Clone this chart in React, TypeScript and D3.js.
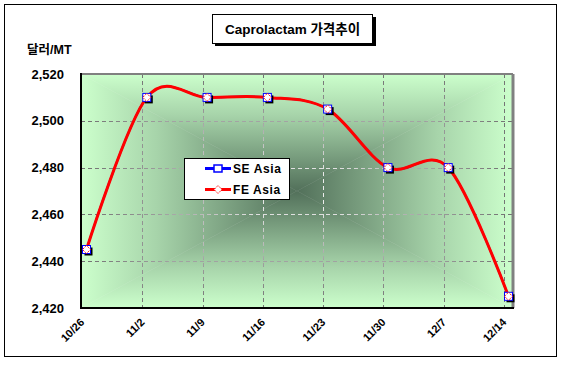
import React from "react";
import * as d3 from "d3";

const categories = ["10/26", "11/2", "11/9", "11/16", "11/23", "11/30", "12/7", "12/14"];
const seAsia = [2445, 2510, 2510, 2510, 2505, 2480, 2480, 2425];
const feAsia = [2445, 2510, 2510, 2510, 2505, 2480, 2480, 2425];
const yTicks = [2420, 2440, 2460, 2480, 2500, 2520];
const title = "Caprolactam 가격추이";
const yLabel = "달러/MT";

const W = 563;
const H = 366;
const plot = { left: 81, top: 74, right: 513, bottom: 308 };
const cx = (plot.left + plot.right) / 2;
const cy = (plot.top + plot.bottom) / 2;
const font = "'Liberation Sans', Arial, 'Noto Sans CJK KR', sans-serif";
const light = "#ccffcc";
const dark = "#52705a";

// rectangular "from center" fill: four triangles each fading toward the middle
function CenterFill({ id, edge, mid }: { id: string; edge: string; mid: string }) {
  const { left, top, right, bottom } = plot;
  const tris = [
    { pts: [[left, top], [right, top], [cx, cy]], g: [cx, top, cx, cy] },
    { pts: [[left, bottom], [right, bottom], [cx, cy]], g: [cx, bottom, cx, cy] },
    { pts: [[left, top], [left, bottom], [cx, cy]], g: [left, cy, cx, cy] },
    { pts: [[right, top], [right, bottom], [cx, cy]], g: [right, cy, cx, cy] },
  ];
  return (
    <g>
      <defs>
        {tris.map((t, i) => (
          <linearGradient key={i} id={`${id}${i}`} gradientUnits="userSpaceOnUse"
            x1={t.g[0]} y1={t.g[1]} x2={t.g[2]} y2={t.g[3]}>
            <stop offset="0" stopColor={edge} />
            <stop offset="0.35" stopColor={d3.interpolateRgb(edge, mid)(0.3)} />
            <stop offset="1" stopColor={mid} />
          </linearGradient>
        ))}
      </defs>
      {tris.map((t, i) => (
        <polygon key={i} points={t.pts.map((p) => p.join(",")).join(" ")}
          fill={`url(#${id}${i})`} stroke={`url(#${id}${i})`} strokeWidth={0.5} />
      ))}
    </g>
  );
}

export default function App() {
  const xGrid = d3.scalePoint<string>().domain(categories).range([82, 504]);
  const xPt = (c: string) => (xGrid(c) as number) + 4.5;
  const y = d3.scaleLinear().domain([2420, 2520]).range([plot.bottom, plot.top]);

  const line = d3.line<number>()
    .x((_, i) => xPt(categories[i]))
    .y((d) => y(d))
    .curve(d3.curveCatmullRom.alpha(0));

  const hGrid = yTicks.filter((t) => t > 2420 && t < 2520);
  const vGrid = categories.slice(1);

  const gridLines = (stroke: string) => (
    <g stroke={stroke} strokeWidth={1} strokeDasharray="4,3">
      {hGrid.map((t) => (
        <line key={t} x1={plot.left} x2={plot.right} y1={Math.round(y(t)) + 0.5} y2={Math.round(y(t)) + 0.5} />
      ))}
      {vGrid.map((c) => (
        <line key={c} x1={Math.round(xGrid(c) as number) + 0.5} x2={Math.round(xGrid(c) as number) + 0.5} y1={plot.top} y2={plot.bottom} />
      ))}
    </g>
  );

  const square = (x: number, yy: number, k: string) => (
    <g key={k}>
      <rect x={x - 2} y={yy - 2} width={8} height={8} fill="#000" />
      <rect x={x - 4} y={yy - 4} width={8} height={8} fill="#fff" stroke="#0000ff" strokeWidth={1} />
    </g>
  );
  const diamond = (x: number, yy: number, k: string, r = 4) => (
    <polygon key={k} points={`${x},${yy - r} ${x + r},${yy} ${x},${yy + r} ${x - r},${yy}`}
      fill="#fff" stroke="#ff0000" strokeWidth={1} strokeDasharray="1.5,1" />
  );

  return (
    <svg width={W} height={H} style={{ position: "absolute", left: 0, top: 0 }} fontFamily={font}>
      <defs>
        <mask id="darkMask" maskUnits="userSpaceOnUse">
          <CenterFill id="mk" edge="#000" mid="#fff" />
        </mask>
      </defs>
      <rect x={0} y={0} width={W} height={H} fill="#fff" />
      <rect x={4.5} y={4.5} width={552} height={352} fill="#fff" stroke="#000" strokeWidth={1} />

      {/* title */}
      <rect x={215} y={17} width={161} height={29} fill="#000" />
      <rect x={212.5} y={14.5} width={160} height={29} fill="#fff" stroke="#000" strokeWidth={1} />
      <text x={292.5} y={34} textAnchor="middle" fontSize={13.5} fontWeight="bold">{title}</text>

      <text x={27} y={54} fontSize={12.5} fontWeight="bold">{yLabel}</text>

      {/* plot area */}
      <CenterFill id="bg" edge={light} mid={dark} />
      {gridLines("#707070")}
      <g mask="url(#darkMask)">{gridLines("#ffffff")}</g>
      <line x1={plot.left} x2={plot.right} y1={plot.top} y2={plot.top} stroke="#808080" strokeWidth={2} />
      <line x1={plot.right} x2={plot.right} y1={plot.top} y2={plot.bottom} stroke="#808080" strokeWidth={3} />
      <line x1={plot.left} x2={plot.left} y1={plot.top - 1} y2={plot.bottom + 1} stroke="#000" strokeWidth={2} />
      <line x1={plot.left - 1} x2={plot.right + 1} y1={plot.bottom} y2={plot.bottom} stroke="#000" strokeWidth={2} />

      {/* y tick labels */}
      {yTicks.map((t) => (
        <text key={t} x={64} y={y(t) + 4.5} textAnchor="end" fontSize={13} fontWeight="bold">
          {d3.format(",")(t)}
        </text>
      ))}

      {/* x tick labels */}
      {categories.map((c) => (
        <text key={c} fontSize={11} fontWeight="bold" textAnchor="end"
          transform={`translate(${(xGrid(c) as number) + 3},${323}) rotate(-45)`}>
          {c}
        </text>
      ))}

      {/* series */}
      <path d={line(seAsia) || ""} fill="none" stroke="#0000ff" strokeWidth={2} />
      <path d={line(feAsia) || ""} fill="none" stroke="#ff0000" strokeWidth={3} />
      {seAsia.map((v, i) => square(xPt(categories[i]), y(v), `s${i}`))}
      {feAsia.map((v, i) => diamond(xPt(categories[i]), y(v), `d${i}`))}

      {/* legend */}
      <rect x={184.5} y={158.5} width={105} height={41} fill="#fff" stroke="#000" strokeWidth={1} />
      <line x1={205} x2={231} y1={168.5} y2={168.5} stroke="#0000ff" strokeWidth={3} />
      <rect x={214} y={165} width={8} height={7} fill="#fff" stroke="#0000ff" strokeWidth={1.5} />
      <text x={233} y={173} fontSize={12} fontWeight="bold" letterSpacing={0.6}>SE Asia</text>
      <line x1={205} x2={231} y1={189.5} y2={189.5} stroke="#ff0000" strokeWidth={3} />
      {diamond(218, 189.5, "ld", 4)}
      <text x={233} y={194} fontSize={12} fontWeight="bold" letterSpacing={0.6}>FE Asia</text>
    </svg>
  );
}
